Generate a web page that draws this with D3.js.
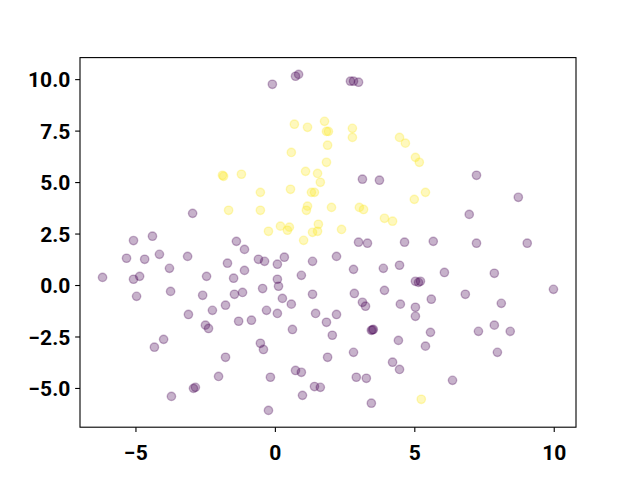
<!DOCTYPE html>
<html>
<head>
<meta charset="utf-8">
<script src="https://cdn.jsdelivr.net/npm/d3@7.9.0/dist/d3.min.js"></script>
<style>
  body { margin: 0; background: #fff; }
  svg { display: block; }
  .tick text { font-family: Roboto, "DejaVu Sans", sans-serif; font-weight: bold; font-size: 21px; fill: #000; }
</style>
</head>
<body>
<svg width="640" height="480"></svg>
<script>
// class 0 (purple) points
const purpleX = [-2.95, -4.39, -5.07, -5.32, -4.67, -4.14, -3.13, -3.78, -6.18, -5.07,
  -4.85, -2.45, -4.96, -3.74, -2.59, -3.10, -2.49, -2.38, -3.99, -4.32,
  -2.92, -2.85, -3.71, -1.38, -1.09, -1.70, -0.59, -0.37, 0.09, 0.34,
  1.35, -1.09, -1.48, 0.09, 0.95, -0.44, 0.13, -1.45, -1.16, 0.27,
  0.59, 1.35, -1.77, -2.24, -0.30, 0.09, 1.46, -1.30, -0.84, 0.63,
  1.85, 2.06, -0.52, -0.41, -1.77, 1.89, -2.02, -0.16, 0.74, 0.95,
  1.42, 1.63, 0.99, -0.23, 3.00, 3.32, 4.65, 5.68, 2.21, 2.82,
  3.89, 4.47, 5.04, 5.15, 5.22, 6.08, 2.85, 3.93, 3.14, 3.25,
  4.50, 5.04, 5.61, 5.04, 2.21, 3.46, 3.53, 3.50, 5.58, 4.43,
  5.40, 2.82, 4.22, 4.47, 2.92, 3.28, 6.37, 3.46, 7.23, 9.05,
  7.87, 6.83, 9.99, 8.12, 7.87, 7.30, 8.44, 7.98, 7.23, 8.73,
  6.97, 2.71, 2.82, 3.00, 3.14, 3.75, -0.09, 0.74, 0.85];
const purpleY = [3.48, 2.37, 2.16, 1.30, 1.25, 1.49, 1.39, 0.81, 0.37, 0.28,
  0.42, 0.42, -0.55, -0.31, -0.50, -1.43, -1.95, -2.11, -2.64, -3.02,
  -5.02, -4.97, -5.41, 2.12, 1.73, 1.06, 1.25, 1.15, 1.01, 1.35,
  1.15, 0.71, 0.33, 0.28, 0.47, -0.17, -0.06, -0.45, -0.36, -0.65,
  -0.93, -0.45, -0.98, -1.23, -1.23, -1.38, -1.38, -1.76, -1.71, -2.16,
  -1.81, -2.44, -2.83, -3.13, -3.51, -3.51, -4.44, -4.48, -4.15, -4.24,
  -4.93, -4.97, -5.36, -6.09, 2.08, 2.03, 2.08, 2.12, 1.39, 0.76,
  0.81, 0.96, 0.18, 0.13, 0.18, 0.61, -0.41, -0.26, -0.84, -1.03,
  -0.93, -1.08, -0.69, -1.52, -1.43, -2.20, -2.16, -2.18, -2.30, -2.69,
  -2.97, -3.27, -3.75, -4.10, -4.48, -4.53, -4.63, -5.74, 2.03, 2.03,
  0.57, -0.45, -0.21, -0.89, -1.95, -2.25, -2.25, -3.27, 5.33, 4.26,
  3.43, 9.90, 9.90, 9.85, 5.14, 5.09, 9.75, 10.14, 10.23];

// class 1 (yellow) points
const yellowX = [5.25, 2.78, 2.78, 4.47, 4.68, 5.04, 5.18, 5.40, 5.00, 2.03,
  3.03, 3.18, 3.93, 4.22, 2.39, 0.70, 1.17, 1.78, 1.85, 1.92,
  1.89, 0.59, 1.85, 1.10, 1.53, 1.63, -1.88, -1.84, -1.20, -0.52,
  0.56, 1.31, 1.42, -1.66, -0.52, 1.17, 1.13, 0.20, 0.52, 0.45,
  -0.23, 1.56, 1.35, 1.53, 1.03];
const yellowY = [-5.55, 7.61, 7.17, 7.17, 6.89, 6.20, 5.96, 4.50, 4.16, 3.77,
  3.77, 3.67, 3.24, 3.10, 2.70, 7.81, 7.66, 7.95, 7.46, 7.46,
  6.79, 6.44, 5.96, 5.52, 5.42, 4.99, 5.33, 5.28, 5.38, 4.50,
  4.65, 4.50, 4.50, 3.63, 3.63, 3.83, 3.63, 2.86, 2.81, 2.66,
  2.61, 2.95, 2.56, 2.61, 2.17];

const xTicks = [-5, 0, 5, 10];
const yTicks = [-5, -2.5, 0, 2.5, 5, 7.5, 10];

const W = 640, H = 480;
const margin = { left: 80, right: 64, top: 57.6, bottom: 52.8 };
const iw = W - margin.left - margin.right;
const ih = H - margin.top - margin.bottom;

const points = [];
purpleX.forEach((x, i) => points.push({ x: x, y: purpleY[i], c: 0 }));
yellowX.forEach((x, i) => points.push({ x: x, y: yellowY[i], c: 1 }));

// matplotlib style 5% margins
function padded(ext) {
  const d = ext[1] - ext[0];
  return [ext[0] - 0.05 * d, ext[1] + 0.05 * d];
}
const x = d3.scaleLinear().domain(padded(d3.extent(points, d => d.x))).range([0, iw]);
const y = d3.scaleLinear().domain(padded(d3.extent(points, d => d.y))).range([ih, 0]);

const svg = d3.select('svg');
const g = svg.append('g').attr('transform', `translate(${margin.left},${margin.top})`);

const color = d3.scaleOrdinal().domain([0, 1]).range([d3.interpolateViridis(0), d3.interpolateViridis(1)]);

g.append('g')
  .selectAll('circle')
  .data(points)
  .join('circle')
  .attr('cx', d => x(d.x))
  .attr('cy', d => y(d.y))
  .attr('r', 4.17)
  .attr('fill', d => color(d.c))
  .attr('fill-opacity', 0.3)
  .attr('stroke', d => color(d.c))
  .attr('stroke-opacity', 0.3)
  .attr('stroke-width', 1.4);

const tickLen = 4.86;

const xAxis = g.append('g')
  .attr('transform', `translate(0,${ih})`)
  .call(d3.axisBottom(x).tickValues(xTicks).tickSize(tickLen).tickSizeOuter(0).tickFormat(d3.format('d')));
xAxis.selectAll('text').attr('y', 32.8).attr('dy', null);

const yAxis = g.append('g')
  .call(d3.axisLeft(y).tickValues(yTicks).tickSize(tickLen).tickSizeOuter(0).tickFormat(d3.format('.1f')));
yAxis.selectAll('text').attr('x', -9.7).attr('dy', '0.36em');

svg.selectAll('.domain').remove();
svg.selectAll('.tick line').attr('stroke', '#000').attr('stroke-width', 1.1);

// spines
g.append('rect')
  .attr('x', 0).attr('y', 0)
  .attr('width', iw).attr('height', ih)
  .attr('fill', 'none')
  .attr('stroke', '#000')
  .attr('stroke-width', 1.1);
</script>
</body>
</html>
